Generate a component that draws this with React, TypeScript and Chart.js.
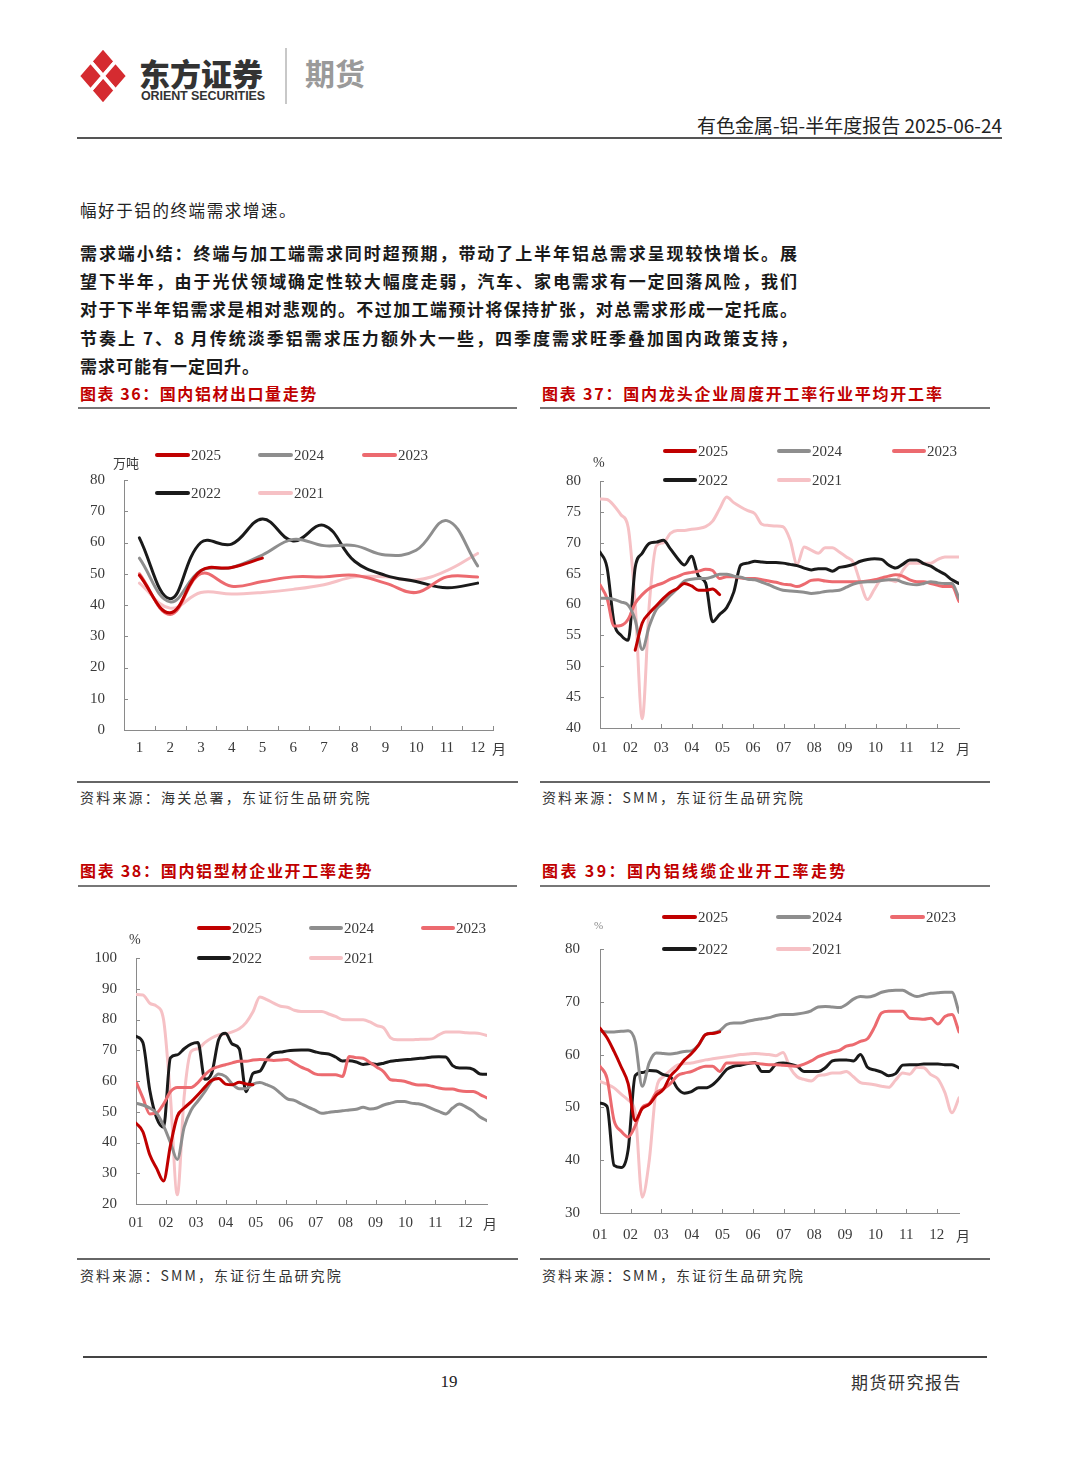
import React, { useEffect, useRef } from 'react';
import { Chart, registerables } from 'chart.js';

Chart.register(...registerables);

// ---------- series meta ----------
const SERIES_NAMES = ['2025', '2024', '2023', '2022', '2021'];
const SERIES_COLORS = ['#c00000', '#8e8e8e', '#ec6a6f', '#1a1a1a', '#f6c1c5'];

// ---------- chart 36: monthly export volume (万吨) ----------
const EXPORT_MONTHS = ['1', '2', '3', '4', '5', '6', '7', '8', '9', '10', '11', '12'];
const EXPORT_2025 = [49.5, 37.5, 51, 52, 55];
const EXPORT_2024 = [55, 41, 51, 52, 56, 61, 59, 59, 56, 57.5, 67, 52.5];
const EXPORT_2023 = [50, 37, 50, 46, 47.5, 49, 49, 49.5, 47, 44, 49, 49];
const EXPORT_2022 = [61.5, 42, 60, 59.5, 67.5, 60.5, 65.5, 54, 49.5, 47.5, 45.5, 47];
const EXPORT_2021 = [47, 39, 44, 43.5, 44, 45, 46.5, 49, 49, 48, 51, 56.5];

// ---------- weekly axis ----------
const WEEKS = Array.from({ length: 52 }, (_, i) => i);
const MONTH_TICK_LABELS = ['01', '02', '03', '04', '05', '06', '07', '08', '09', '10', '11', '12'];
const MONTH_TICK_WEEKS = [0, 4.35, 8.7, 13.05, 17.4, 21.75, 26.1, 30.45, 34.8, 39.15, 43.5, 47.85];

// ---------- chart 37: leading firms weekly operating rate (%) ----------
const LEAD_2025 = [null, null, null, null, null, 52.6, 57, 58.6, 59.8, 61, 62, 62.6, 63.4, 63, 62.3, 62.3, 62.5, 61.6];
const LEAD_2024 = [61, 61, 60.8, 60.4, 59.9, 57.5, 52.7, 56.5, 59.2, 60.3, 61.5, 62.6, 63.8, 64.1, 64.2, 64.2, 64.5, 64.9, 64.9, 64.6, 64.4, 64.1, 64, 63.6, 63.2, 62.7, 62.3, 62.2, 62.1, 62, 61.8, 61.9, 62.1, 62.2, 62.3, 62.8, 63.3, 63.6, 63.7, 63.7, 63.9, 64, 64, 63.6, 63.3, 63.2, 63.4, 63.7, 63.5, 63.4, 63.4, 61];
const LEAD_2023 = [63.2, 61, 56.5, 56.6, 57.6, 60.2, 61.6, 62.6, 63.1, 63.5, 64.1, 64.5, 65, 65.2, 65.4, 65.7, 65.5, 64.2, 64.5, 64.5, 64.3, 64.2, 64.2, 64, 63.8, 63.6, 63.3, 63.2, 62.9, 63.3, 63.9, 64, 63.8, 63.7, 63.7, 63.7, 63.7, 63.7, 63.8, 64, 64.3, 64.6, 64.8, 64.6, 64, 63.7, 63.7, 63.4, 63.1, 62.9, 62.9, 60.5];
const LEAD_2022 = [68.5, 66, 57, 55, 54.2, 66, 68.3, 69.9, 70.1, 70.4, 69, 67.5, 66.4, 67.8, 64.6, 63.5, 57.2, 58.4, 59.5, 62, 66.4, 66.7, 67, 66.9, 66.8, 66.8, 66.7, 66.5, 66.3, 65.9, 65.6, 65.8, 65.8, 65.4, 66, 66.2, 66.5, 67, 67.3, 67.4, 67.3, 66.4, 65.9, 66.5, 67.2, 67.2, 66.6, 66.2, 65.5, 64.9, 64, 63.4];
const LEAD_2021 = [77.1, 77, 76, 74.5, 72.5, 60, 41.5, 60, 69.5, 70, 71.5, 72, 72, 72.2, 72.3, 72.6, 73.5, 75.5, 77.4, 76.5, 75.8, 75.2, 74.7, 73, 72.8, 72.7, 72.6, 70.5, 66.5, 69.3, 68.8, 68.3, 69.2, 69.2, 68.5, 67.7, 66.8, 63.5, 60.8, 62.5, 64, 64, 63.7, 65.5, 66.7, 66.7, 66.7, 66.7, 67.3, 67.7, 67.7, 67.7];

// ---------- chart 38: profile firms weekly operating rate (%) ----------
const PROFILE_2025 = [46.3, 43.5, 36, 31.6, 27.5, 39, 48.5, 51.2, 53.2, 55.5, 58, 60.2, 60.8, 59, 58.8, 59.6, 59, 58.8];
const PROFILE_2024 = [52.8, 52.2, 51.2, 49.5, 45.5, 40, 34.5, 45, 50.5, 53.5, 56.5, 60, 62.3, 61.5, 59, 57.5, 57.5, 59, 59.5, 58.8, 57.8, 56, 54.2, 53.7, 52.6, 51.5, 50.5, 49.5, 49.8, 50.1, 50.3, 50.6, 50.8, 51.5, 50.9, 51.2, 52.2, 52.8, 53.3, 53.3, 52.8, 52.6, 52, 51, 50.1, 49.3, 51.2, 52.5, 51.5, 50.2, 48.3, 47.1];
const PROFILE_2023 = [59.8, 54.5, 49.3, 49.6, 52.5, 56.5, 57.9, 57.9, 57.9, 59.5, 62, 63.8, 64.7, 65.3, 65.9, 66.4, 66.4, 66.8, 67, 66.9, 66.7, 66.8, 67, 65.8, 64.5, 63.6, 62.3, 62, 62, 62, 61.5, 68, 67.6, 67.4, 66, 64.5, 63, 60.4, 60.2, 59.9, 59.2, 58.7, 58.7, 58.3, 57.7, 57.4, 57.4, 56.8, 56.6, 56.6, 55.6, 54.5];
const PROFILE_2022 = [74.5, 72.5, 57, 48, 45, 67.5, 68.5, 70.5, 72, 72.5, 60.6, 62.5, 73.4, 75.5, 72, 70.5, 56.5, 62.5, 63.2, 67, 69.1, 69.4, 69.8, 70, 70.1, 70.1, 69.5, 69, 68.8, 67.8, 66.5, 66.6, 66.2, 65.4, 65.7, 65.4, 65.8, 66.4, 66.7, 66.9, 67.1, 67.3, 67.5, 67.8, 67.9, 67.8, 65, 64.2, 64.2, 63.8, 62.3, 62.2];
const PROFILE_2021 = [88.1, 88, 85.3, 84.3, 80, 55, 23, 55, 69.6, 70.5, 72.5, 74, 75, 75.3, 76, 77, 79, 82.5, 87.3, 86.5, 85.3, 84.3, 84, 83, 82.6, 82.6, 82.6, 82.6, 81.8, 81, 80, 79.9, 79.9, 79.9, 79.2, 78, 77.3, 74, 73.4, 73.4, 73.4, 73.5, 73.6, 73.7, 75, 75.9, 75.9, 75.9, 75.7, 75.6, 75.4, 74.8];

// ---------- chart 39: cable firms weekly operating rate (%) ----------
const CABLE_2025 = [65, 63.2, 60.6, 57.7, 54.5, 47.5, 49.8, 50.6, 52.3, 53.4, 55.9, 57.3, 59, 60.2, 61.8, 63.8, 64, 64.3];
const CABLE_2024 = [64.4, 64.3, 64.3, 64.4, 64.5, 62.5, 54, 58.5, 60.3, 60.2, 60.1, 60.3, 60.6, 60.7, 61.8, 63.8, 64.1, 64.5, 65.7, 66, 66, 66.3, 66.6, 66.8, 67, 67.4, 67.6, 67.6, 67.7, 67.9, 68.3, 69, 69.1, 69, 68.9, 69.5, 70.5, 71, 70.9, 71.2, 71.8, 72.1, 72.2, 72.2, 71.5, 71, 71.3, 71.6, 71.7, 71.8, 71.8, 68];
const CABLE_2023 = [57.8, 55.5, 47.5, 45.5, 44.4, 46.5, 50, 50.7, 52.8, 53.5, 54.5, 56, 56.5, 56.8, 57.4, 57.8, 57.8, 56.8, 58.4, 58.4, 58.4, 58.4, 58.4, 58.2, 58.1, 58.1, 58, 57.9, 57.8, 58.2, 58.8, 59.6, 60.1, 60.5, 60.8, 61.6, 61.9, 62.5, 63, 65.2, 67.9, 68.2, 68.2, 68.2, 66.9, 66.8, 66.7, 66.9, 65.8, 67.2, 67.6, 64.3];
const CABLE_2022 = [50.8, 50.2, 39, 38.6, 42, 56, 56.6, 57, 56.9, 56.2, 55.8, 53.6, 52.7, 53, 53.7, 53.7, 54.3, 55.6, 57.2, 57.8, 58, 58.3, 58.5, 56.8, 56.8, 58.2, 58.4, 58.2, 57.8, 56.8, 56.8, 56.8, 57.5, 58.8, 59, 59, 58.8, 60, 57.6, 57.1, 56.7, 56, 56.4, 58, 58.1, 58.1, 58.2, 58.2, 58.2, 58.1, 58.1, 57.5];
const CABLE_2021 = [54.9, 54.4, 53.7, 52.5, 51.4, 49, 33, 40, 53.5, 55.8, 57, 58, 58.3, 58.4, 58.7, 59, 59.2, 59.4, 59.6, 59.8, 60, 60.1, 60.2, 60.1, 60, 59.8, 60.4, 57.5, 55.8, 55.3, 55, 56, 56.2, 56.5, 56.5, 56.8, 55.8, 54.7, 54.5, 54.3, 54, 53.8, 55.2, 56.5, 56.3, 57.6, 57.5, 56.2, 55.4, 52.8, 49, 51.8];

// ---------- fonts ----------
const FONT_SERIF = '"Liberation Serif", "DejaVu Serif", serif';
const FONT_CJK = '"Noto Sans CJK SC", "Noto Sans", sans-serif';
const AXIS_COLOR = '#8a8a8a';
const LABEL_COLOR = '#3a3a3a';

// plugin: small tick marks pointing into the plot area
const innerTicks = {
  id: 'innerTicks',
  afterDraw(chart: any, _args: any, opts: any) {
    const { ctx, chartArea, scales } = chart;
    const len = 4;
    ctx.save();
    ctx.strokeStyle = AXIS_COLOR;
    ctx.lineWidth = 1;
    const y = scales.y;
    y.ticks.forEach((t: any) => {
      const p = Math.round(y.getPixelForValue(t.value)) + 0.5;
      ctx.beginPath();
      ctx.moveTo(chartArea.left, p);
      ctx.lineTo(chartArea.left + len, p);
      ctx.stroke();
    });
    const x = scales.x;
    const xs: number[] = [];
    if (opts && opts.between) {
      const n = x.ticks.length;
      for (let i = 1; i <= n; i++) xs.push(chartArea.left + (i * chartArea.width) / n);
    } else {
      x.ticks.forEach((t: any, i: number) => { if (i > 0) xs.push(x.getPixelForValue(t.value)); });
    }
    xs.forEach((px) => {
      const p = Math.round(px) + 0.5;
      ctx.beginPath();
      ctx.moveTo(p, chartArea.bottom);
      ctx.lineTo(p, chartArea.bottom - len);
      ctx.stroke();
    });
    ctx.restore();
  },
};

type Cfg = {
  left: number; top: number; w: number; h: number;
  padTop: number; padRight: number; yW: number; xH: number;
  weekly: boolean; series: any[]; yMin: number; yMax: number; yStep: number;
  xPad: number; yPad: number;
};

function buildConfig(c: Cfg): any {
  const tickFont = { family: FONT_SERIF, size: 15 };
  const xScale = c.weekly
    ? {
        type: 'linear', min: 0, max: 51,
        afterBuildTicks: (s: any) => { s.ticks = MONTH_TICK_WEEKS.map((v) => ({ value: v })); },
        ticks: { callback: (_v: any, i: number) => MONTH_TICK_LABELS[i], autoSkip: false, maxRotation: 0, padding: c.xPad, color: LABEL_COLOR, font: tickFont },
        grid: { display: false, drawTicks: false },
        border: { display: true, color: AXIS_COLOR, width: 1 },
        afterFit: (s: any) => { s.height = c.xH; },
      }
    : {
        type: 'category', offset: true,
        ticks: { autoSkip: false, maxRotation: 0, padding: c.xPad, color: LABEL_COLOR, font: tickFont },
        grid: { display: false, drawTicks: false, offset: true },
        border: { display: true, color: AXIS_COLOR, width: 1 },
        afterFit: (s: any) => { s.height = c.xH; },
      };
  return {
    type: 'line',
    data: {
      labels: c.weekly ? WEEKS : EXPORT_MONTHS,
      datasets: c.series.map((d, i) => ({
        label: SERIES_NAMES[i], data: d, borderColor: SERIES_COLORS[i], backgroundColor: SERIES_COLORS[i],
        borderWidth: 3, pointRadius: 0, fill: false, spanGaps: false,
        tension: c.weekly ? 0.3 : 0.4, cubicInterpolationMode: c.weekly ? 'monotone' : 'default',
        borderJoinStyle: 'round', borderCapStyle: 'round',
      })),
    },
    options: {
      responsive: false, animation: false, events: [],
      layout: { padding: { top: c.padTop, right: c.padRight, left: 0, bottom: 0 } },
      plugins: { legend: { display: false }, tooltip: { enabled: false }, innerTicks: { between: !c.weekly } },
      scales: {
        x: xScale,
        y: {
          min: c.yMin, max: c.yMax,
          ticks: { stepSize: c.yStep, padding: c.yPad, color: LABEL_COLOR, font: tickFont },
          grid: { display: false, drawTicks: false },
          border: { display: true, color: AXIS_COLOR, width: 1 },
          afterFit: (s: any) => { s.width = c.yW; },
        },
      },
    },
    plugins: [innerTicks],
  };
}

function LineChart({ cfg }: { cfg: Cfg }) {
  const ref = useRef<HTMLCanvasElement | null>(null);
  useEffect(() => {
    const chart = new Chart(ref.current as HTMLCanvasElement, buildConfig(cfg));
    return () => chart.destroy();
  }, []);
  return (
    <canvas ref={ref} width={cfg.w} height={cfg.h}
      style={{ position: 'absolute', left: cfg.left, top: cfg.top, width: cfg.w, height: cfg.h }} />
  );
}

function Txt(p: { x: number; y: number; size: number; children: any; color?: string; weight?: number; family?: string; ls?: number; align?: string }) {
  const style: any = {
    position: 'absolute', top: p.y - p.size / 2, lineHeight: `${p.size}px`, fontSize: p.size,
    color: p.color || '#222', fontWeight: p.weight || 400, fontFamily: p.family || FONT_CJK,
    letterSpacing: p.ls || 0, whiteSpace: 'nowrap',
  };
  if (p.align === 'right') style.right = 1080 - p.x;
  else if (p.align === 'center') { style.left = p.x - 200; style.width = 400; style.textAlign = 'center'; }
  else style.left = p.x;
  return <div style={style}>{p.children}</div>;
}

function HLine({ x1, x2, y, t = 1, color = '#666' }: any) {
  return <div style={{ position: 'absolute', left: x1, top: y - t / 2, width: x2 - x1, height: t, background: color }} />;
}

function Legend({ cols, rows, lineW }: { cols: number[]; rows: number[]; lineW: number }) {
  const slots = [[0, 0], [1, 0], [2, 0], [0, 1], [1, 1]];
  return (
    <>
      {SERIES_NAMES.map((name, i) => {
        const [c, r] = slots[i];
        const x = cols[c];
        const y = rows[r];
        return (
          <React.Fragment key={name}>
            <div style={{ position: 'absolute', left: x, top: y - 2, width: lineW, height: 4, background: SERIES_COLORS[i], borderRadius: 2 }} />
            <Txt x={x + lineW + 1} y={y} size={15} family={FONT_SERIF} color={LABEL_COLOR}>{name}</Txt>
          </React.Fragment>
        );
      })}
    </>
  );
}

const C36: Cfg = { left: 78, top: 440, w: 430, h: 330, padTop: 40, padRight: 15, yW: 46, xH: 40, weekly: false,
  series: [EXPORT_2025, EXPORT_2024, EXPORT_2023, EXPORT_2022, EXPORT_2021], yMin: 0, yMax: 80, yStep: 10, xPad: 9, yPad: 19 };
const C37: Cfg = { left: 540, top: 440, w: 440, h: 330, padTop: 41, padRight: 21, yW: 60, xH: 42, weekly: true,
  series: [LEAD_2025, LEAD_2024, LEAD_2023, LEAD_2022, LEAD_2021], yMin: 40, yMax: 80, yStep: 5, xPad: 11, yPad: 19 };
const C38: Cfg = { left: 78, top: 920, w: 440, h: 330, padTop: 38, padRight: 31, yW: 58, xH: 46, weekly: true,
  series: [PROFILE_2025, PROFILE_2024, PROFILE_2023, PROFILE_2022, PROFILE_2021], yMin: 20, yMax: 100, yStep: 10, xPad: 10, yPad: 19 };
const C39: Cfg = { left: 540, top: 910, w: 440, h: 340, padTop: 39, padRight: 21, yW: 60, xH: 37, weekly: true,
  series: [CABLE_2025, CABLE_2024, CABLE_2023, CABLE_2022, CABLE_2021], yMin: 30, yMax: 80, yStep: 10, xPad: 13, yPad: 20 };

function Logo() {
  const red = '#d52b30';
  const C = [103, 76];
  const T = [103, 47], R = [128, 76], B = [103, 105], L = [78, 76];
  const mTR = [115.5, 61.5], mRB = [115.5, 90.5], mBL = [90.5, 90.5], mLT = [90.5, 61.5];
  const polys = [[T, mTR, C, mLT], [mTR, R, mRB, C], [C, mRB, B, mBL], [mLT, C, mBL, L]];
  return (
    <svg width={1080} height={140} style={{ position: 'absolute', left: 0, top: 0 }}>
      {polys.map((p, i) => (
        <polygon key={i} points={p.map((q) => q.join(',')).join(' ')} fill={red} stroke="#fff" strokeWidth={3.5} strokeLinejoin="round" />
      ))}
    </svg>
  );
}

export default function App() {
  const paraStyle: any = {
    position: 'absolute', left: 80, width: 718, fontSize: 17, lineHeight: '17px', fontWeight: 700,
    fontFamily: FONT_CJK, color: '#1a1a1a', textAlign: 'justify', textAlignLast: 'justify', letterSpacing: 1,
  };
  const para = [
    '需求端小结：终端与加工端需求同时超预期，带动了上半年铝总需求呈现较快增长。展',
    '望下半年，由于光伏领域确定性较大幅度走弱，汽车、家电需求有一定回落风险，我们',
    '对于下半年铝需求是相对悲观的。不过加工端预计将保持扩张，对总需求形成一定托底。',
    '节奏上 7、8 月传统淡季铝需求压力额外大一些，四季度需求旺季叠加国内政策支持，',
  ];
  const paraY = [252, 280, 308, 337];
  return (
    <div style={{ position: 'absolute', left: 0, top: 0, width: 1080, height: 1465, background: '#fff', overflow: 'hidden' }}>
      {/* header */}
      <Logo />
      <Txt x={139} y={72} size={31} weight={900} color="#333" ls={0}>东方证券</Txt>
      <Txt x={141} y={96} size={12.5} weight={700} color="#333" family={'"Liberation Sans", Arial, sans-serif'} ls={-0.1}>ORIENT SECURITIES</Txt>
      <div style={{ position: 'absolute', left: 285, top: 48, width: 1.5, height: 56, background: '#c8c8c8' }} />
      <Txt x={305} y={72} size={30} weight={700} color="#9a9a9a">期货</Txt>
      <Txt x={1002} y={124} size={19} color="#222" align="right">有色金属-铝-半年度报告 2025-06-24</Txt>
      <HLine x1={77} x2={1002} y={138} t={2} color="#555" />

      {/* body text */}
      <Txt x={80} y={210} size={16.5} color="#222" ls={1.6}>幅好于铝的终端需求增速。</Txt>
      {para.map((s, i) => (
        <div key={i} style={{ ...paraStyle, top: paraY[i] - 8.5 }}>{s}</div>
      ))}
      <Txt x={80} y={365} size={17} weight={700} color="#1a1a1a" ls={1}>需求可能有一定回升。</Txt>

      {/* chart 36 */}
      <Txt x={80} y={393} size={16} weight={700} color="#c00000" ls={1.55}>图表 36：国内铝材出口量走势</Txt>
      <HLine x1={78} x2={517} y={408} t={1.5} color="#777" />
      <LineChart cfg={C36} />
      <Legend cols={[155, 258, 362]} rows={[455, 493]} lineW={35} />
      <Txt x={113} y={462} size={13} color={LABEL_COLOR}>万吨</Txt>
      <Txt x={492} y={748} size={14} color={LABEL_COLOR}>月</Txt>
      <HLine x1={77} x2={518} y={782} t={1.5} color="#666" />
      <Txt x={80} y={797} size={14} color="#333" ls={2.2}>资料来源：海关总署，东证衍生品研究院</Txt>

      {/* chart 37 */}
      <Txt x={542} y={393} size={16} weight={700} color="#c00000" ls={1.8}>图表 37：国内龙头企业周度开工率行业平均开工率</Txt>
      <HLine x1={540} x2={990} y={408} t={1.5} color="#777" />
      <LineChart cfg={C37} />
      <Legend cols={[663, 777, 892]} rows={[451, 480]} lineW={34} />
      <Txt x={593} y={463} size={14} family={FONT_SERIF} color={LABEL_COLOR}>%</Txt>
      <Txt x={956} y={748} size={14} color={LABEL_COLOR}>月</Txt>
      <HLine x1={540} x2={990} y={782} t={1.5} color="#666" />
      <Txt x={542} y={797} size={14} color="#333" ls={2.1}>资料来源：SMM，东证衍生品研究院</Txt>

      {/* chart 38 */}
      <Txt x={80} y={870} size={16} weight={700} color="#c00000" ls={1.7}>图表 38：国内铝型材企业开工率走势</Txt>
      <HLine x1={78} x2={517} y={886} t={1.5} color="#777" />
      <LineChart cfg={C38} />
      <Legend cols={[197, 309, 421]} rows={[928, 958]} lineW={34} />
      <Txt x={129} y={940} size={14} family={FONT_SERIF} color={LABEL_COLOR}>%</Txt>
      <Txt x={483} y={1223} size={14} color={LABEL_COLOR}>月</Txt>
      <HLine x1={77} x2={518} y={1259} t={1.5} color="#666" />
      <Txt x={80} y={1275} size={14} color="#333" ls={2.1}>资料来源：SMM，东证衍生品研究院</Txt>

      {/* chart 39 */}
      <Txt x={542} y={870} size={16} weight={700} color="#c00000" ls={2.4}>图表 39：国内铝线缆企业开工率走势</Txt>
      <HLine x1={540} x2={990} y={886} t={1.5} color="#777" />
      <LineChart cfg={C39} />
      <Legend cols={[662, 776, 890]} rows={[917, 949]} lineW={35} />
      <Txt x={594} y={925} size={11} family={FONT_SERIF} color="#888">%</Txt>
      <Txt x={956} y={1235} size={14} color={LABEL_COLOR}>月</Txt>
      <HLine x1={540} x2={990} y={1259} t={1.5} color="#666" />
      <Txt x={542} y={1275} size={14} color="#333" ls={2.1}>资料来源：SMM，东证衍生品研究院</Txt>

      {/* footer */}
      <HLine x1={83} x2={987} y={1357} t={2} color="#444" />
      <Txt x={449} y={1381} size={17} family={FONT_SERIF} color="#222" align="center">19</Txt>
      <Txt x={962} y={1381} size={17} color="#333" ls={1.5} align="right">期货研究报告</Txt>
    </div>
  );
}
